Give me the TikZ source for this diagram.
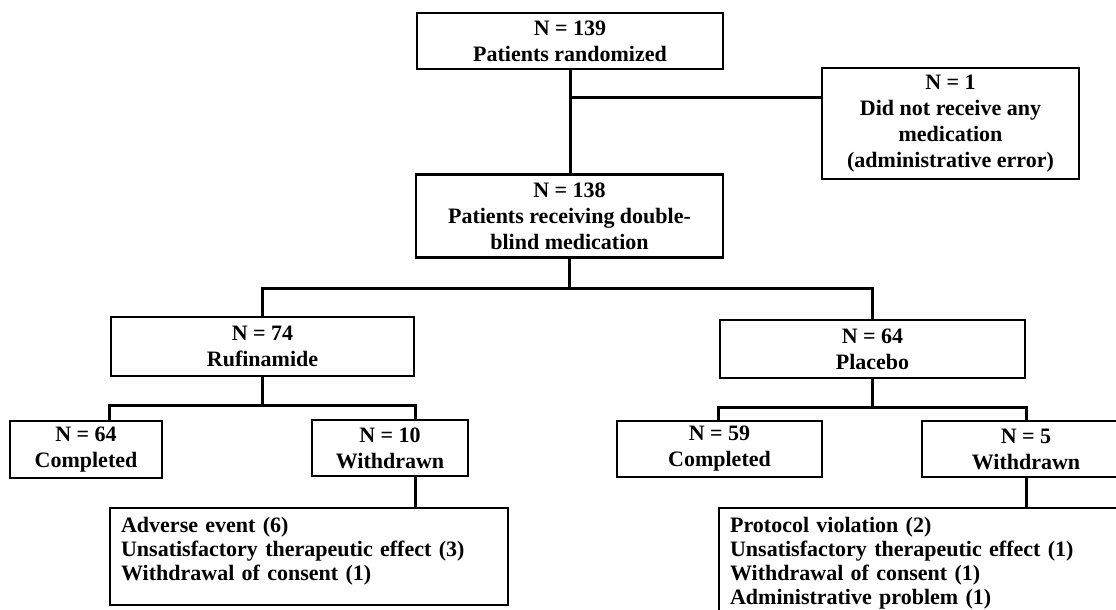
\documentclass[tikz,border=0pt]{standalone}
\usepackage{fontspec}
\setmainfont{Liberation Serif}
\newcommand{\flowfont}{\fontsize{22}{26}\selectfont\bfseries}
\newcommand{\whyfont}{\fontsize{22}{24}\selectfont\bfseries}

\begin{document}
\begin{tikzpicture}[x=1pt,y=-1pt,
		box/.style={draw=black,line width=2.2pt,align=center,inner sep=0pt,font=\flowfont},
		whybox/.style={draw=black,line width=2.2pt,align=left,anchor=north west,inner xsep=11pt,inner ysep=9pt,font=\whyfont},
		link/.style={black,line width=3pt}]
		\useasboundingbox (0,0) rectangle (1116,610);
		\node [box,minimum width=306pt,minimum height=56pt] (rand) at (570,41) {N = 139\\Patients randomized};
		\node [box,minimum width=257pt,minimum height=111pt] (excl) at (950.5,123.5) {N = 1\\Did not receive any\\medication\\(administrative error)};
		\node [box,minimum width=307pt,minimum height=83pt] (recv) at (569.5,216) {N = 138\\Patients receiving double-\\blind medication};
		\node [box,minimum width=303pt,minimum height=59pt] (ruf) at (262.5,346.5) {N = 74\\Rufinamide};
		\node [box,minimum width=305pt,minimum height=58pt] (plac) at (872.5,349) {N = 64\\Placebo};
		\node [box,minimum width=152pt,minimum height=57pt] (comp1) at (86,449.5) {N = 64\\Completed};
		\node [box,minimum width=156pt,minimum height=56pt] (wd1) at (390,448) {N = 10\\Withdrawn};
		\node [box,minimum width=205pt,minimum height=56pt] (comp2) at (719.5,449) {N = 59\\Completed};
		\node [box,minimum width=208pt,minimum height=56pt] (wd2) at (1026,449) {N = 5\\Withdrawn};
		\node [whybox,text width=376pt] (why1) at (109,507) {Adverse event (6)\\Unsatisfactory therapeutic effect (3)\\Withdrawal of consent (1)\\[-8.5pt]\mbox{}};
		\node [whybox,text width=398pt] (why2) at (718,507) {Protocol violation (2)\\Unsatisfactory therapeutic effect (1)\\Withdrawal of consent (1)\\Administrative problem (1)};
		\draw [link] (rand.south) -- (rand.south |- recv.north);
		\path (rand.south) ++(0,27) coordinate (j1);
		\draw [link] (j1) -- (j1 -| excl.west);
		\draw [link] (recv.south) -- ++(0,30) coordinate (j2);
		\draw [link] (ruf.north) |- (j2) -| (plac.north);
		\draw [link] (ruf.south) -- ++(0,28) coordinate (j3);
		\draw [link] (ruf.west |- comp1.north) |- (j3) -| (ruf.east |- wd1.north);
		\draw [link] (ruf.east |- wd1.south) -- (ruf.east |- why1.north);
		\draw [link] (plac.south) -- ++(0,28) coordinate (j4);
		\draw [link] (plac.west |- comp2.north) |- (j4) -| (plac.east |- wd2.north);
		\draw [link] (plac.east |- wd2.south) -- (plac.east |- why2.north);
\end{tikzpicture}
\end{document}
